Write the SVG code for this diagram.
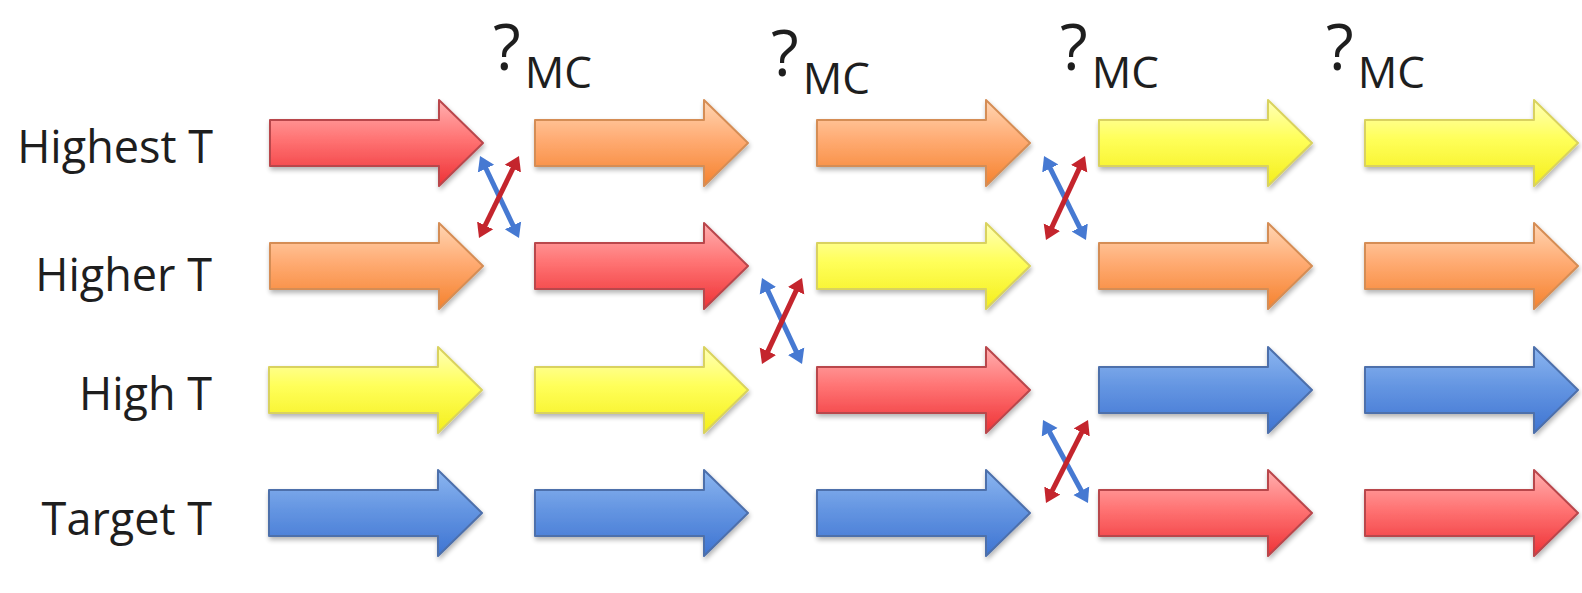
<svg xmlns="http://www.w3.org/2000/svg" width="1582" height="593" viewBox="0 0 1582 593">
  <style>
    .lbl { font-family: "Open Sans", "Liberation Sans", sans-serif; font-size: 45px; fill: #1e1e1e; text-anchor: end; }
    .q { font-family: "Open Sans", "Liberation Sans", sans-serif; font-size: 64px; fill: #1e1e1e; }
    .sub { font-size: 44px; }
    .arr { stroke-width: 2; stroke-linejoin: round; filter: url(#shadow); }
    .red { fill: url(#gRed); stroke: #b9464c; }
    .orange { fill: url(#gOrange); stroke: #d58d55; }
    .yellow { fill: url(#gYellow); stroke: #d9d25e; }
    .blue { fill: url(#gBlue); stroke: #4d6fab; }
    .swapB { stroke: #4679d2; stroke-width: 5; fill: none; marker-start: url(#headB); marker-end: url(#headB); }
    .swapR { stroke: #c4252d; stroke-width: 5; fill: none; marker-start: url(#headR); marker-end: url(#headR); }
  </style>
  <defs>
    <linearGradient id="gRed" x1="0" y1="0" x2="0" y2="1">
      <stop offset="0" stop-color="#ffb0b0"/>
      <stop offset="0.45" stop-color="#ff7474"/>
      <stop offset="1" stop-color="#ee3236"/>
    </linearGradient>
    <linearGradient id="gOrange" x1="0" y1="0" x2="0" y2="1">
      <stop offset="0" stop-color="#ffd6b4"/>
      <stop offset="0.45" stop-color="#ffac74"/>
      <stop offset="1" stop-color="#f5822e"/>
    </linearGradient>
    <linearGradient id="gYellow" x1="0" y1="0" x2="0" y2="1">
      <stop offset="0" stop-color="#ffffb8"/>
      <stop offset="0.45" stop-color="#ffff5a"/>
      <stop offset="1" stop-color="#f4ee1c"/>
    </linearGradient>
    <linearGradient id="gBlue" x1="0" y1="0" x2="0" y2="1">
      <stop offset="0" stop-color="#8cb6f0"/>
      <stop offset="0.45" stop-color="#6596e2"/>
      <stop offset="1" stop-color="#3e74d2"/>
    </linearGradient>
    <filter id="shadow" x="-5%" y="-20%" width="115%" height="150%">
      <feGaussianBlur in="SourceAlpha" stdDeviation="2.5"/>
      <feOffset dx="1" dy="3" result="b"/>
      <feComponentTransfer><feFuncA type="linear" slope="0.3"/></feComponentTransfer>
      <feMerge><feMergeNode/><feMergeNode in="SourceGraphic"/></feMerge>
    </filter>
    <!-- block arrow, origin at left end of the shaft centre line -->
    <path id="blk" d="M0,-23 H169 V-43 L213,0 L169,43 V23 H0 Z"/>
    <marker id="headB" viewBox="0 -10 16 20" refX="4" refY="0" markerWidth="16" markerHeight="20" markerUnits="userSpaceOnUse" orient="auto-start-reverse">
      <path d="M0,-9 L14,0 L0,9 Z" fill="#4679d2"/>
    </marker>
    <marker id="headR" viewBox="0 -10 16 20" refX="4" refY="0" markerWidth="16" markerHeight="20" markerUnits="userSpaceOnUse" orient="auto-start-reverse">
      <path d="M0,-9 L14,0 L0,9 Z" fill="#c4252d"/>
    </marker>
  </defs>

  <rect width="1582" height="593" fill="#ffffff"/>

  <!-- row labels -->
  <g id="labels">
    <text class="lbl" x="213" y="163">Highest T</text>
    <text class="lbl" x="212" y="291">Higher T</text>
    <text class="lbl" x="212" y="410">High T</text>
    <text class="lbl" x="212" y="535">Target T</text>
  </g>

  <!-- Monte Carlo exchange attempts -->
  <g id="mc-labels">
    <text class="q" x="493" y="70">?<tspan class="sub" dx="4" dy="18">MC</tspan></text>
    <text class="q" x="771" y="76">?<tspan class="sub" dx="4" dy="18">MC</tspan></text>
    <text class="q" x="1060" y="70">?<tspan class="sub" dx="4" dy="18">MC</tspan></text>
    <text class="q" x="1326" y="70">?<tspan class="sub" dx="4" dy="18">MC</tspan></text>
  </g>

  <!-- step 1 -->
  <g id="s1-highest"><use href="#blk" class="arr red" transform="translate(270,143)"/></g>
  <g id="s1-higher"><use href="#blk" class="arr orange" transform="translate(270,266)"/></g>
  <g id="s1-high"><use href="#blk" class="arr yellow" transform="translate(269,390)"/></g>
  <g id="s1-target"><use href="#blk" class="arr blue" transform="translate(269,513)"/></g>

  <!-- step 2 -->
  <g id="s2-highest"><use href="#blk" class="arr orange" transform="translate(535,143)"/></g>
  <g id="s2-higher"><use href="#blk" class="arr red" transform="translate(535,266)"/></g>
  <g id="s2-high"><use href="#blk" class="arr yellow" transform="translate(535,390)"/></g>
  <g id="s2-target"><use href="#blk" class="arr blue" transform="translate(535,513)"/></g>

  <!-- step 3 -->
  <g id="s3-highest"><use href="#blk" class="arr orange" transform="translate(817,143)"/></g>
  <g id="s3-higher"><use href="#blk" class="arr yellow" transform="translate(817,266)"/></g>
  <g id="s3-high"><use href="#blk" class="arr red" transform="translate(817,390)"/></g>
  <g id="s3-target"><use href="#blk" class="arr blue" transform="translate(817,513)"/></g>

  <!-- step 4 -->
  <g id="s4-highest"><use href="#blk" class="arr yellow" transform="translate(1099,143)"/></g>
  <g id="s4-higher"><use href="#blk" class="arr orange" transform="translate(1099,266)"/></g>
  <g id="s4-high"><use href="#blk" class="arr blue" transform="translate(1099,390)"/></g>
  <g id="s4-target"><use href="#blk" class="arr red" transform="translate(1099,513)"/></g>

  <!-- step 5 -->
  <g id="s5-highest"><use href="#blk" class="arr yellow" transform="translate(1365,143)"/></g>
  <g id="s5-higher"><use href="#blk" class="arr orange" transform="translate(1365,266)"/></g>
  <g id="s5-high"><use href="#blk" class="arr blue" transform="translate(1365,390)"/></g>
  <g id="s5-target"><use href="#blk" class="arr red" transform="translate(1365,513)"/></g>

  <!-- replica swaps -->
  <g id="connectors">
    <line class="swapB" x1="484.3" y1="165" x2="514.7" y2="229"/>
    <line class="swapR" x1="514.6" y1="165" x2="483.4" y2="229"/>

    <line class="swapB" x1="766.2" y1="287.1" x2="797.8" y2="354.9"/>
    <line class="swapR" x1="797.8" y1="287.1" x2="766.2" y2="354.9"/>

    <line class="swapB" x1="1048.5" y1="164.9" x2="1081.5" y2="231.1"/>
    <line class="swapR" x1="1080.8" y1="165.1" x2="1050.2" y2="230.9"/>

    <line class="swapB" x1="1047.8" y1="428.8" x2="1083.2" y2="494.2"/>
    <line class="swapR" x1="1083.5" y1="428.9" x2="1050.5" y2="494.1"/>
  </g>
</svg>
